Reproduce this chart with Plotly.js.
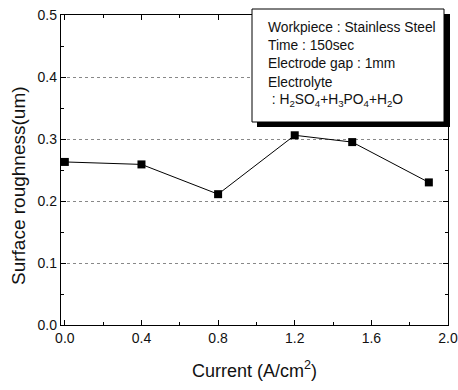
<!DOCTYPE html>
<html>
<head>
<meta charset="utf-8">
<script src="https://cdn.plot.ly/plotly-3.0.1.min.js"></script>
<style>html,body{margin:0;padding:0;background:#fff;}#chart{width:458px;height:390px;}</style>
</head>
<body>
<div id="chart"></div>
<script>
const currents = [0.0, 0.4, 0.8, 1.2, 1.5, 1.9];
const roughness = [0.263, 0.259, 0.211, 0.306, 0.295, 0.230];
const xTickVals = [0.0, 0.4, 0.8, 1.2, 1.6, 2.0];
const xTickText = ['0.0', '0.4', '0.8', '1.2', '1.6', '2.0'];
const yTickVals = [0.0, 0.1, 0.2, 0.3, 0.4, 0.5];
const yTickText = ['0.0', '0.1', '0.2', '0.3', '0.4', '0.5'];
const noteLines = [
  'Workpiece : Stainless Steel',
  'Time : 150sec',
  'Electrode gap : 1mm',
  'Electrolyte',
  ' : H<sub>2</sub>SO<sub>4</sub>+H<sub>3</sub>PO<sub>4</sub>+H<sub>2</sub>O'
];

const FONT = 'Liberation Sans, Arial, sans-serif';
// plot area in pixels
const L = 61, R = 448, T = 15, B = 325;
const W = R - L, H = B - T;
const px = v => (v - L) / W;
const py = v => (B - v) / H;

const trace = {
  x: currents, y: roughness, type: 'scatter', mode: 'lines+markers',
  line: {color: '#000', width: 1},
  marker: {symbol: 'square', size: 8, color: '#000'},
  cliponaxis: false
};

const annotations = noteLines.map((t, i) => ({
  text: t, xref: 'paper', yref: 'paper', x: px(266), y: py(27.5 + i * 18.2),
  xanchor: 'left', yanchor: 'middle', showarrow: false, align: 'left',
  font: {family: FONT, size: 13.8, color: '#111'}
}));
annotations.push({
  text: 'Surface roughness(um)', xref: 'paper', yref: 'paper',
  x: px(18), y: py(186), xanchor: 'center', yanchor: 'middle', textangle: -90,
  showarrow: false, font: {family: FONT, size: 19, color: '#111'}
});
annotations.push({
  text: 'Current (A/cm<sup>2</sup>)', xref: 'paper', yref: 'paper',
  x: px(254), y: py(369), xanchor: 'center', yanchor: 'middle',
  showarrow: false, font: {family: FONT, size: 18, color: '#111'}
});

const shapes = [
  {type: 'rect', xref: 'paper', yref: 'paper', x0: px(257), x1: px(450), y0: py(14), y1: py(127),
   fillcolor: '#000', line: {width: 0}, layer: 'above'},
  {type: 'rect', xref: 'paper', yref: 'paper', x0: px(252), x1: px(444), y0: py(9), y1: py(122),
   fillcolor: '#fff', line: {color: '#000', width: 1}, layer: 'above'}
];

const axisCommon = {
  showline: true, linecolor: '#000', linewidth: 1.2, mirror: 'allticks',
  ticks: 'inside', ticklen: 5, tickwidth: 1, tickcolor: '#000',
  zeroline: false, tickfont: {family: FONT, size: 14, color: '#111'}
};

const layout = {
  width: 458, height: 390,
  margin: {l: L, r: 458 - R, t: T, b: 390 - B, pad: 0},
  paper_bgcolor: '#fff', plot_bgcolor: '#fff',
  showlegend: false,
  xaxis: Object.assign({}, axisCommon, {
    range: [-0.02, 2.0], tickmode: 'array', tickvals: xTickVals, ticktext: xTickText,
    showgrid: false,
    minor: {dtick: 0.2, tick0: 0, ticks: 'inside', ticklen: 3, tickcolor: '#000', showgrid: false}
  }),
  yaxis: Object.assign({}, axisCommon, {
    range: [0, 0.5], tickmode: 'array', tickvals: yTickVals, ticktext: yTickText,
    showgrid: true, gridcolor: '#888', gridwidth: 1, griddash: 'dot',
    minor: {dtick: 0.05, tick0: 0, ticks: 'inside', ticklen: 3, tickcolor: '#000', showgrid: false}
  }),
  annotations: annotations,
  shapes: shapes
};

Plotly.newPlot('chart', [trace], layout, {displayModeBar: false, staticPlot: true});
</script>
</body>
</html>
